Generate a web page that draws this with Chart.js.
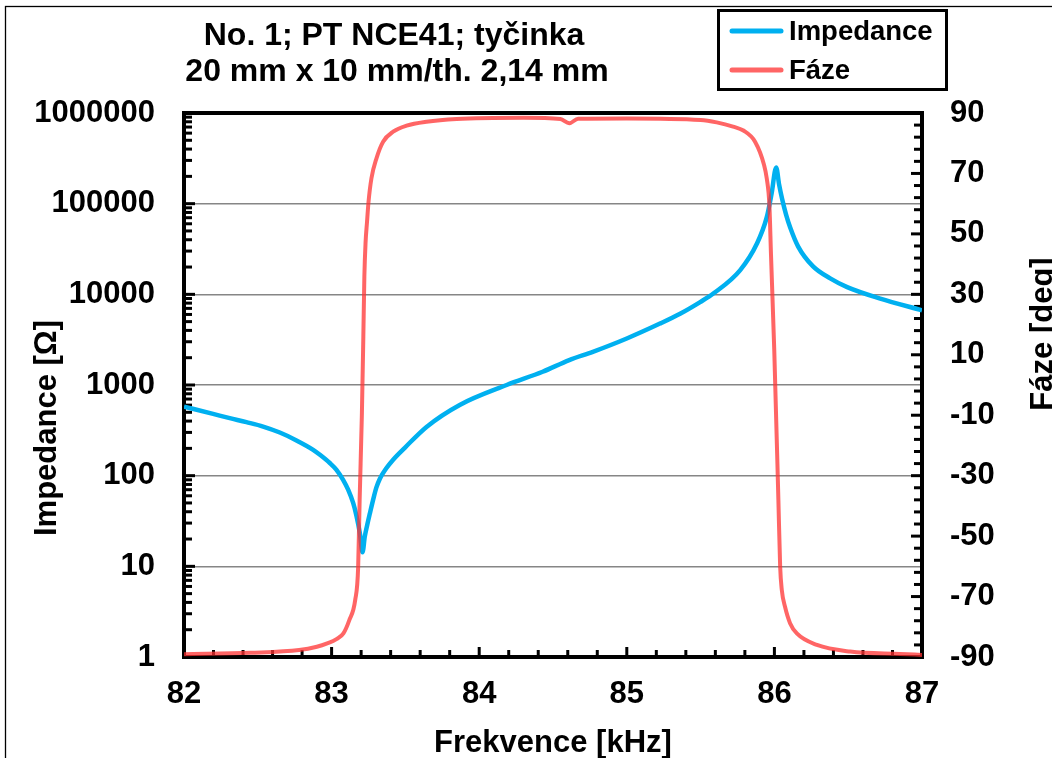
<!DOCTYPE html>
<html>
<head>
<meta charset="utf-8">
<script src="https://cdn.jsdelivr.net/npm/chart.js@4.4.0/dist/chart.umd.min.js"></script>
<style>
  body { margin: 0; background: #fff; }
  canvas { display: block; }
</style>
</head>
<body>
<canvas id="graf" width="1052" height="758"></canvas>
<script>
  // Data
  const frekvenceZ = [82.00, 82.197, 82.31, 82.423, 82.536, 82.649, 82.762, 82.875, 82.921, 82.988, 83.033, 83.078, 83.112, 83.146, 83.169, 83.191, 83.2095, 83.225, 83.242, 83.259, 83.280, 83.303, 83.327, 83.368, 83.417, 83.496, 83.643, 83.868, 84.186, 84.43, 84.61, 84.77, 85.00, 85.225, 85.361, 85.497, 85.586, 85.767, 85.881, 85.948, 85.981, 86.012, 86.032, 86.052, 86.079, 86.107, 86.161, 86.262, 86.378, 86.493, 86.717, 87.00];
  const impedance = [578, 480, 431, 389, 348, 299, 245, 193, 170, 138, 116, 90, 70, 50, 35.7, 23.4, 14.3, 21.4, 29.0, 38.2, 53.1, 73.8, 92.7, 119, 150, 203, 345, 603, 1000, 1400, 1885, 2323, 3260, 4760, 6110, 8220, 10200, 18400, 36100, 70600, 129000, 251000, 162000, 113000, 75700, 54500, 33600, 20300, 15000, 12000, 8970, 6670];

  const frekvenceF = [82.00, 82.45, 82.78, 82.90, 82.97, 83.033, 83.08, 83.12, 83.16, 83.18, 83.19, 83.205, 83.215, 83.222, 83.23, 83.24, 83.25, 83.27, 83.304, 83.349, 83.417, 83.508, 83.643, 83.847, 84.30, 84.55, 84.61, 84.67, 85.00, 85.50, 85.609, 85.72, 85.79, 85.869, 85.93, 85.948, 85.966, 85.977, 85.999, 86.027, 86.039, 86.05, 86.072, 86.106, 86.152, 86.288, 86.513, 86.852, 87.00];
  const faze = [-89.1, -88.6, -87.7, -86.6, -85.5, -84.1, -82.2, -77.8, -71.1, -60.1, -38, -10, 16, 36, 47, 54, 60.5, 68.4, 75.0, 80.5, 83.8, 85.8, 87.1, 88.0, 88.4, 88.0, 86.6, 88.1, 88.2, 87.7, 86.9, 85.5, 84.2, 80.5, 72.8, 68.4, 59.6, 43, 11.6, -38, -60.1, -67.8, -73.4, -78.8, -82.2, -86, -88.2, -89, -89.3];

  const xTicks = [82, 83, 84, 85, 86, 87];
  const impedanceTicks = [1, 10, 100, 1000, 10000, 100000, 1000000];
  const fazeTicks = [-90, -70, -50, -30, -10, 10, 30, 50, 70, 90];

  const nazevRadky = ["No. 1; PT NCE41; tyčinka", "20 mm x 10 mm/th. 2,14 mm"];
  const FONT = 'Arial, "Liberation Sans", sans-serif';
  const MODRA = "#00b0f0";
  const CERVENA = "rgba(255, 50, 50, 0.75)";

  const tickFont = { family: FONT, size: 31, weight: "bold" };

  /* dekorace : rámeček, značky os, titulky, legenda */
  const dekorace = {
    id: "dekorace",
    beforeDatasetsDraw(chart) {
      const { ctx, chartArea: a, scales } = chart;
      ctx.save();
      ctx.strokeStyle = "#000";
      ctx.lineWidth = 3;
      // osa x : značky po 0,2 kHz směrem dovnitř
      for (let i = 0; i <= 25; i++) {
        const v = 82 + i * 0.2;
        const px = scales.x.getPixelForValue(v);
        const len = i % 5 === 0 ? 10 : 7;
        ctx.beginPath();
        ctx.moveTo(px, a.bottom);
        ctx.lineTo(px, a.bottom - len);
        ctx.stroke();
      }
      // levá osa (log)
      for (let d = 0; d < 6; d++) {
        for (let m = 1; m <= 9; m++) {
          const py = scales.y.getPixelForValue(m * Math.pow(10, d));
          const len = m === 1 ? 11 : 8;
          ctx.beginPath();
          ctx.moveTo(a.left, py);
          ctx.lineTo(a.left + len, py);
          ctx.stroke();
        }
      }
      // pravá osa : po 4 stupních
      for (let i = 0; i <= 45; i++) {
        const v = -90 + i * 4;
        const py = scales.y2.getPixelForValue(v);
        const len = i % 5 === 0 ? 11 : 8;
        ctx.beginPath();
        ctx.moveTo(a.right, py);
        ctx.lineTo(a.right - len, py);
        ctx.stroke();
      }
      // rámeček grafu
      ctx.lineWidth = 4;
      ctx.strokeRect(a.left, a.top, a.right - a.left, a.bottom - a.top);
      ctx.restore();
    },
    afterDraw(chart) {
      const { ctx, chartArea: a } = chart;
      ctx.save();
      ctx.fillStyle = "#000";

      // vnější rámeček
      ctx.strokeStyle = "#000";
      ctx.lineWidth = 1.3;
      ctx.strokeRect(5.5, 6.5, 1200, 900);

      // titulek
      ctx.font = "bold 32px " + FONT;
      ctx.textAlign = "center";
      ctx.textBaseline = "alphabetic";
      ctx.fillText(nazevRadky[0], 394, 45);
      ctx.fillText(nazevRadky[1], 397, 81);

      // popisky os
      ctx.font = "bold 31px " + FONT;
      ctx.fillText("Frekvence [kHz]", (a.left + a.right) / 2, 752);
      ctx.save();
      ctx.translate(56, 428);
      ctx.rotate(-Math.PI / 2);
      ctx.fillText("Impedance [Ω]", 0, 0);
      ctx.restore();
      ctx.save();
      ctx.translate(1052, 334);
      ctx.rotate(-Math.PI / 2);
      ctx.fillText("Fáze [deg]", 0, 0);
      ctx.restore();

      // legenda
      ctx.lineWidth = 3;
      ctx.strokeRect(718.5, 10.5, 228, 79);
      const polozky = chart.data.datasets;
      const radky = [31, 70];
      ctx.font = "bold 27.5px " + FONT;
      ctx.textAlign = "left";
      ctx.textBaseline = "middle";
      polozky.forEach((ds, i) => {
        ctx.strokeStyle = ds.borderColor;
        ctx.lineWidth = 5;
        ctx.lineCap = "round";
        ctx.beginPath();
        ctx.moveTo(732, radky[i]);
        ctx.lineTo(781, radky[i]);
        ctx.stroke();
        ctx.fillText(ds.label, 789, radky[i] + 1);
      });
      ctx.restore();
    },
  };

  const ctx = document.getElementById("graf").getContext("2d");
  const graf = new Chart(ctx, {
    type: "line",
    data: {
      datasets: [
        {
          label: "Impedance",
          data: frekvenceZ.map((f, i) => ({ x: f, y: impedance[i] })),
          borderColor: MODRA,
          borderWidth: 4.5,
          pointRadius: 0,
          cubicInterpolationMode: "monotone",
          yAxisID: "y",
          order: 1,
        },
        {
          label: "Fáze",
          data: frekvenceF.map((f, i) => ({ x: f, y: faze[i] })),
          borderColor: CERVENA,
          borderWidth: 4,
          pointRadius: 0,
          cubicInterpolationMode: "monotone",
          yAxisID: "y2",
          order: 0,
        },
      ],
    },
    options: {
      responsive: false,
      animation: false,
      devicePixelRatio: 1,
      layout: { padding: { top: 113, left: 0, right: 0, bottom: 0 } },
      plugins: {
        legend: { display: false },
        tooltip: { enabled: false },
        title: { display: false },
      },
      scales: {
        x: {
          type: "linear",
          position: "bottom",
          min: 82,
          max: 87,
          afterBuildTicks: (s) => { s.ticks = xTicks.map((v) => ({ value: v })); },
          afterFit: (s) => { s.height = 101; },
          ticks: { font: tickFont, color: "#000", padding: 19, maxRotation: 0, autoSkip: false, callback: (v) => String(v) },
          grid: { display: false, drawTicks: false },
          border: { display: false },
        },
        y: {
          type: "logarithmic",
          position: "left",
          min: 1,
          max: 1000000,
          afterBuildTicks: (s) => { s.ticks = impedanceTicks.map((v) => ({ value: v })); },
          afterFit: (s) => { s.width = 184; },
          ticks: { font: tickFont, color: "#000", padding: 29, autoSkip: false, callback: (v) => String(v) },
          grid: { color: "#868686", lineWidth: 1.5, drawTicks: false },
          border: { display: false },
        },
        y2: {
          type: "linear",
          position: "right",
          min: -90,
          max: 90,
          afterBuildTicks: (s) => { s.ticks = fazeTicks.map((v) => ({ value: v })); },
          afterFit: (s) => { s.width = 130; },
          ticks: { font: tickFont, color: "#000", padding: 28, autoSkip: false, callback: (v) => String(v) },
          grid: { display: false, drawTicks: false },
          border: { display: false },
        },
      },
    },
    plugins: [dekorace],
  });
</script>
</body>
</html>
